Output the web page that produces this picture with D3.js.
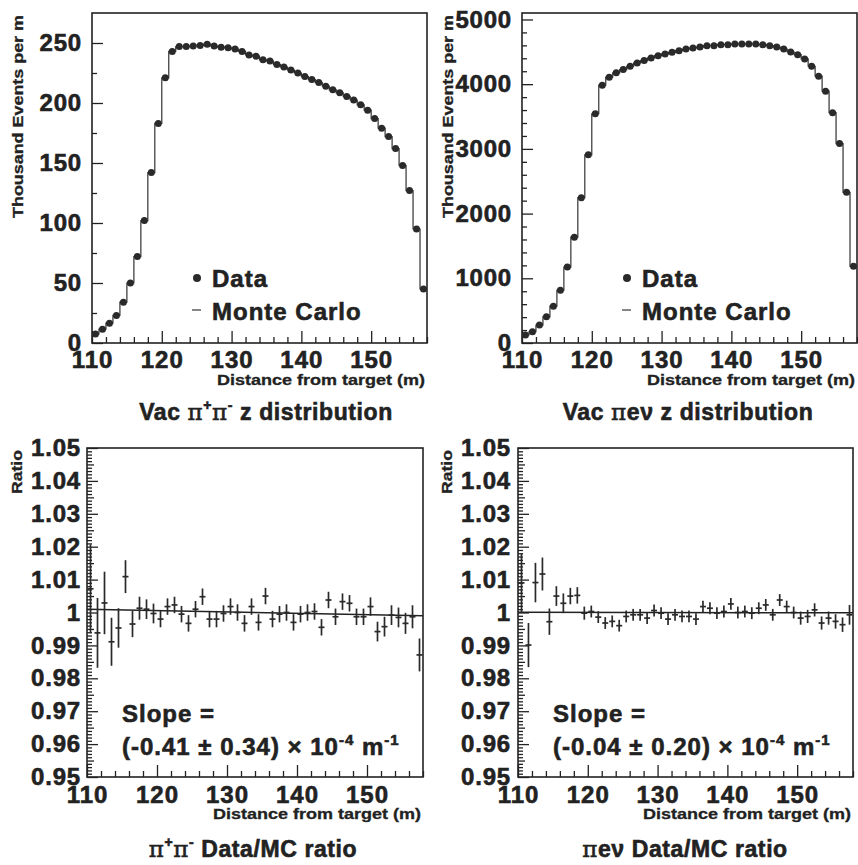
<!DOCTYPE html>
<html><head><meta charset="utf-8">
<script src="https://cdn.jsdelivr.net/npm/d3@7"></script>
<style>
html,body{margin:0;padding:0;background:#fff;}
svg{display:block;}
text{font-family:"Liberation Sans",Arial,Helvetica,sans-serif;font-weight:bold;fill:#222;}
.big{stroke:#222;stroke-width:0.6px;}
</style></head><body>
<svg id="c" width="858" height="865"></svg>
<script>
// ---------- DATA ----------
const binCenters = [110.5,111.5,112.5,113.5,114.5,115.5,116.5,117.5,118.5,119.5,
  120.5,121.5,122.5,123.5,124.5,125.5,126.5,127.5,128.5,129.5,
  130.5,131.5,132.5,133.5,134.5,135.5,136.5,137.5,138.5,139.5,
  140.5,141.5,142.5,143.5,144.5,145.5,146.5,147.5,148.5,149.5,
  150.5,151.5,152.5,153.5,154.5,155.5,156.5,157.5];
const binWidth = 1;

const pipiData = [7.5,11.5,16.5,23,34,50,72,102,142,183,
  221,243,247,247,247.5,248,249,247.5,246.5,246,
  245,243,240,239,236,235,232,230,227.5,225,
  222,219.5,217,214,211,208.5,205.5,202.5,198.5,194,
  187,179,172,162,148,127,95,45];
const pipiMC = [7.5,11.5,16.5,23,34,50,72,102,142,183,
  221,243,247,247,247.5,248,249,247.5,246.5,246,
  245,243,240,239,236,235,232,230,227.5,225,
  222,219.5,217,214,211,208.5,205.5,202.5,198.5,194,
  187,179,172,162,148,127,95,45];

const penuData = [125,174,277,405,569,815,1174,1636,2246,2908,
  3543,3985,4108,4175,4226,4277,4328,4365,4405,4441,
  4467,4492,4518,4544,4559,4574,4595,4595,4610,4610,
  4620,4620,4620,4620,4610,4595,4574,4544,4497,4456,
  4390,4277,4123,3892,3559,3082,2328,1185];
const penuMC = [125,174,277,405,569,815,1174,1636,2246,2908,
  3543,3985,4108,4175,4226,4277,4328,4365,4405,4441,
  4467,4492,4518,4544,4559,4574,4595,4595,4610,4610,
  4620,4620,4620,4620,4610,4595,4574,4544,4497,4456,
  4390,4277,4123,3892,3559,3082,2328,1185];

const pipiRatio = [1.0072,0.9938,1.0029,0.9911,0.9953,1.0109,0.9965,1.0013,1.0010,0.9997,
  0.9980,1.0018,1.0023,0.9995,0.9967,1.0010,1.0048,0.9980,0.9980,0.9997,
  1.0018,1.0000,0.9967,1.0018,0.9970,1.0050,0.9980,0.9995,1.0000,0.9970,
  0.9995,1.0000,1.0003,0.9955,1.0038,0.9987,1.0033,1.0028,0.9987,0.9987,
  1.0018,0.9942,0.9957,0.9992,0.9985,0.9967,0.9987,0.9871];
const pipiRatioErr = [0.0135,0.0106,0.0095,0.0073,0.0060,0.0050,0.0040,0.0035,0.0030,0.0030,
  0.0025,0.0025,0.0025,0.0025,0.0025,0.0025,0.0025,0.0025,0.0025,0.0025,
  0.0025,0.0025,0.0025,0.0025,0.0025,0.0025,0.0025,0.0025,0.0025,0.0025,
  0.0025,0.0025,0.0025,0.0025,0.0025,0.0025,0.0025,0.0025,0.0025,0.0025,
  0.0028,0.0030,0.0030,0.0030,0.0030,0.0032,0.0035,0.0050];

const penuRatio = [1.0090,0.9901,1.0091,1.0117,0.9972,1.0050,1.0028,1.0050,1.0052,0.9998,
  1.0003,0.9986,0.9968,0.9973,0.9960,0.9988,0.9993,0.9993,0.9983,1.0006,
  0.9998,0.9980,0.9993,0.9988,0.9988,0.9980,1.0018,1.0013,0.9998,1.0003,
  1.0026,1.0000,1.0003,0.9998,1.0013,1.0023,0.9993,1.0038,1.0018,1.0000,
  0.9983,0.9988,1.0008,0.9968,0.9983,0.9973,0.9963,0.9993];
const penuRatioErr = [0.0090,0.0067,0.0060,0.0050,0.0040,0.0030,0.0030,0.0025,0.0025,0.0020,
  0.0018,0.0018,0.0018,0.0018,0.0018,0.0018,0.0018,0.0018,0.0018,0.0018,
  0.0018,0.0018,0.0018,0.0018,0.0018,0.0018,0.0018,0.0018,0.0018,0.0018,
  0.0018,0.0018,0.0018,0.0018,0.0018,0.0018,0.0018,0.0018,0.0018,0.0018,
  0.0020,0.0020,0.0020,0.0020,0.0020,0.0022,0.0022,0.0030];

// fit line values at z = 110 and z = 158
const fitZ = [110, 158];
const pipiFit = [1.0010, 0.9990];
const penuFit = [1.0001, 0.9999];

const xTicks = [110,120,130,140,150];
const pipiYTicks = [0,50,100,150,200,250];
const penuYTicks = [0,1000,2000,3000,4000,5000];
const ratioYTicks = [0.95,0.96,0.97,0.98,0.99,1.00,1.01,1.02,1.03,1.04,1.05];
const ratioYLabels = ["0.95","0.96","0.97","0.98","0.99","1","1.01","1.02","1.03","1.04","1.05"];

const xTitle = "Distance from target (m)";
const topYTitle = "Thousand Events per m";
const ratioYTitle = "Ratio";
const legendLabels = ["Data","Monte Carlo"];

// ---------- DRAW ----------
const svg = d3.select("#c");
const INK = "#222";

function panel(o){
  const x = d3.scaleLinear().domain([110,158]).range([o.x0,o.x1]);
  const y = d3.scaleLinear().domain(o.yDom).range([o.y1,o.y0]);
  const g = svg.append("g");

  const xMinor = d3.range(110,159,2).filter(v=>v%10!==0);
  const gxm = g.append("g").attr("transform",`translate(0,${o.y1})`)
    .call(d3.axisBottom(x).tickValues(xMinor).tickSizeInner(-6).tickSizeOuter(0).tickFormat(""));
  gxm.select(".domain").remove();
  const gx = g.append("g").attr("transform",`translate(0,${o.y1})`)
    .call(d3.axisBottom(x).tickValues(xTicks).tickSizeInner(-12).tickSizeOuter(0).tickPadding(o.xPad).tickFormat(d3.format("d")));
  gx.select(".domain").remove();
  gx.selectAll("text").attr("font-size",24).attr("font-family",null).attr("class","big").style("letter-spacing","1px");

  const gym = g.append("g").attr("transform",`translate(${o.x0},0)`)
    .call(d3.axisLeft(y).tickValues(o.yMinor).tickSizeInner(-5).tickSizeOuter(0).tickFormat(""));
  gym.select(".domain").remove();
  if (o.yMid){
    const gymm = g.append("g").attr("transform",`translate(${o.x0},0)`)
      .call(d3.axisLeft(y).tickValues(o.yMid).tickSizeInner(-7).tickSizeOuter(0).tickFormat(""));
    gymm.select(".domain").remove();
  }
  const gy = g.append("g").attr("transform",`translate(${o.x0},0)`)
    .call(d3.axisLeft(y).tickValues(o.yTicks).tickSizeInner(-11).tickSizeOuter(0).tickPadding(o.yPad)
      .tickFormat((d,i)=>o.yLabels ? o.yLabels[i] : d3.format("d")(d)));
  gy.select(".domain").remove();
  gy.selectAll("text").attr("font-size",24).attr("font-family",null).attr("class","big").style("letter-spacing","0.8px");

  g.selectAll(".tick line").attr("stroke",INK).attr("stroke-width",1.3);

  g.append("rect").attr("x",o.x0).attr("y",o.y0).attr("width",o.x1-o.x0).attr("height",o.y1-o.y0)
    .attr("fill","none").attr("stroke",INK).attr("stroke-width",1.6);

  g.append("text").attr("x",o.x1-2).attr("y",o.y1+42).attr("text-anchor","end")
    .attr("font-size",14.5).attr("textLength",208).attr("lengthAdjust","spacingAndGlyphs")
    .style("stroke","#222").style("stroke-width","0.3px").text(xTitle);
  g.append("text").attr("transform",`translate(${o.yTitleX},${o.y0+2}) rotate(-90)`)
    .attr("text-anchor","end").attr("font-size",o.yTitleSize)
    .attr("textLength",o.yTitleLen).attr("lengthAdjust","spacingAndGlyphs")
    .style("stroke","#222").style("stroke-width","0.3px").text(o.yTitle);
  return {g,x,y};
}

function stepPath(x,y,vals){
  const pts = [];
  binCenters.forEach((c,i)=>{
    pts.push([x(c-binWidth/2), y(vals[i])]);
    pts.push([x(c+binWidth/2), y(vals[i])]);
  });
  return d3.line()(pts);
}

function topPanel(o, data, mc){
  const p = panel(o);
  p.g.append("path").attr("d",stepPath(p.x,p.y,mc)).attr("fill","none")
    .attr("stroke","#333").attr("stroke-width",1.2);
  p.g.selectAll("circle.d").data(data).join("circle").attr("class","d")
    .attr("cx",(d,i)=>p.x(binCenters[i])).attr("cy",d=>p.y(d)).attr("r",3.5).attr("fill","#2a2a2a");
  const lx = o.x0 + 105;
  p.g.append("circle").attr("cx",lx).attr("cy",278).attr("r",4).attr("fill","#2a2a2a");
  p.g.append("text").attr("x",lx+15).attr("y",287).attr("font-size",24).attr("class","big").style("letter-spacing","1px").text(legendLabels[0]);
  p.g.append("line").attr("x1",lx-5).attr("x2",lx+4).attr("y1",310).attr("y2",310).attr("stroke","#444").attr("stroke-width",1.3);
  p.g.append("text").attr("x",lx+15).attr("y",320).attr("font-size",24).attr("class","big").style("letter-spacing","1px").text(legendLabels[1]);
  return p;
}

function ratioPanel(o, vals, errs, fit, slopeText){
  const p = panel(o);
  p.g.append("line").attr("x1",p.x(fitZ[0])).attr("x2",p.x(fitZ[1]))
    .attr("y1",p.y(fit[0])).attr("y2",p.y(fit[1])).attr("stroke",INK).attr("stroke-width",1.5);
  const gc = p.g.append("g").attr("stroke","#2a2a2a").attr("stroke-width",1.7);
  binCenters.forEach((c,i)=>{
    gc.append("line").attr("x1",p.x(c)).attr("x2",p.x(c))
      .attr("y1",p.y(vals[i]-errs[i])).attr("y2",p.y(vals[i]+errs[i]));
    gc.append("line").attr("x1",p.x(c)-3).attr("x2",p.x(c)+3)
      .attr("y1",p.y(vals[i])).attr("y2",p.y(vals[i]));
  });
  const tx = o.x0 + 35;
  p.g.append("text").attr("x",tx).attr("y",722).attr("font-size",24).attr("class","big").style("letter-spacing","1px").text("Slope =");
  const t = p.g.append("text").attr("x",tx).attr("y",755).attr("font-size",24).attr("class","big").style("letter-spacing","1px");
  t.append("tspan").text(slopeText + " \u00d7 10");
  t.append("tspan").attr("dy",-10).attr("font-size",15).text("-4");
  t.append("tspan").attr("dy",10).text(" m");
  t.append("tspan").attr("dy",-10).attr("font-size",15).text("-1");
  return p;
}

topPanel({x0:92,x1:427,y0:13,y1:343,yDom:[0,275],yTicks:pipiYTicks,
  yMinor:[25,75,125,175,225],xPad:8,yPad:10,yTitle:topYTitle,yTitleX:23,yTitleSize:14,yTitleLen:203},
  pipiData, pipiMC);
topPanel({x0:522,x1:857,y0:13,y1:343,yDom:[0,5100],yTicks:penuYTicks,
  yMinor:d3.range(200,5100,200).filter(v=>v%1000!==0),xPad:8,yPad:10,yTitle:topYTitle,yTitleX:453,yTitleSize:14,yTitleLen:203},
  penuData, penuMC);

const rMinor = d3.range(951,1050).filter(v=>v%5!==0).map(v=>v/1000);
const rMid = d3.range(955,1050,10).map(v=>v/1000);
ratioPanel({x0:87,x1:423,y0:448,y1:777,yDom:[0.95,1.05],yTicks:ratioYTicks,yLabels:ratioYLabels,
  yMinor:rMinor,yMid:rMid,xPad:9,yPad:6,yTitle:ratioYTitle,yTitleX:22,yTitleSize:14,yTitleLen:44},
  pipiRatio, pipiRatioErr, pipiFit, "(-0.41 \u00b1 0.34)");
ratioPanel({x0:518,x1:853,y0:448,y1:777,yDom:[0.95,1.05],yTicks:ratioYTicks,yLabels:ratioYLabels,
  yMinor:rMinor,yMid:rMid,xPad:9,yPad:7,yTitle:ratioYTitle,yTitleX:452,yTitleSize:14,yTitleLen:44},
  penuRatio, penuRatioErr, penuFit, "(-0.04 \u00b1 0.20)");

function caption(cx, y, parts){
  const t = svg.append("text").attr("x",cx).attr("y",y).attr("text-anchor","middle").attr("font-size",23)
    .attr("class","big").style("letter-spacing","0.6px");
  parts.forEach(p=>{
    const s = t.append("tspan").text(p.t);
    if (p.sup) s.attr("font-size",14).attr("dy",-10);
    if (p.down) s.attr("dy",10);
    if (p.greek) s.attr("font-family","'DejaVu Serif',serif").attr("font-weight","normal");
  });
}
caption(266, 420, [{t:"Vac "},{t:"\u03c0",greek:1},{t:"+",sup:1},{t:"\u03c0",greek:1,down:1},{t:"-",sup:1},{t:" z distribution",down:1}]);
caption(688, 420, [{t:"Vac "},{t:"\u03c0",greek:1},{t:"e\u03bd"},{t:" z distribution"}]);
caption(253, 857, [{t:"\u03c0",greek:1},{t:"+",sup:1},{t:"\u03c0",greek:1,down:1},{t:"-",sup:1},{t:" Data/MC ratio",down:1}]);
caption(685, 857, [{t:"\u03c0",greek:1},{t:"e\u03bd"},{t:" Data/MC ratio"}]);
</script>
</body></html>
